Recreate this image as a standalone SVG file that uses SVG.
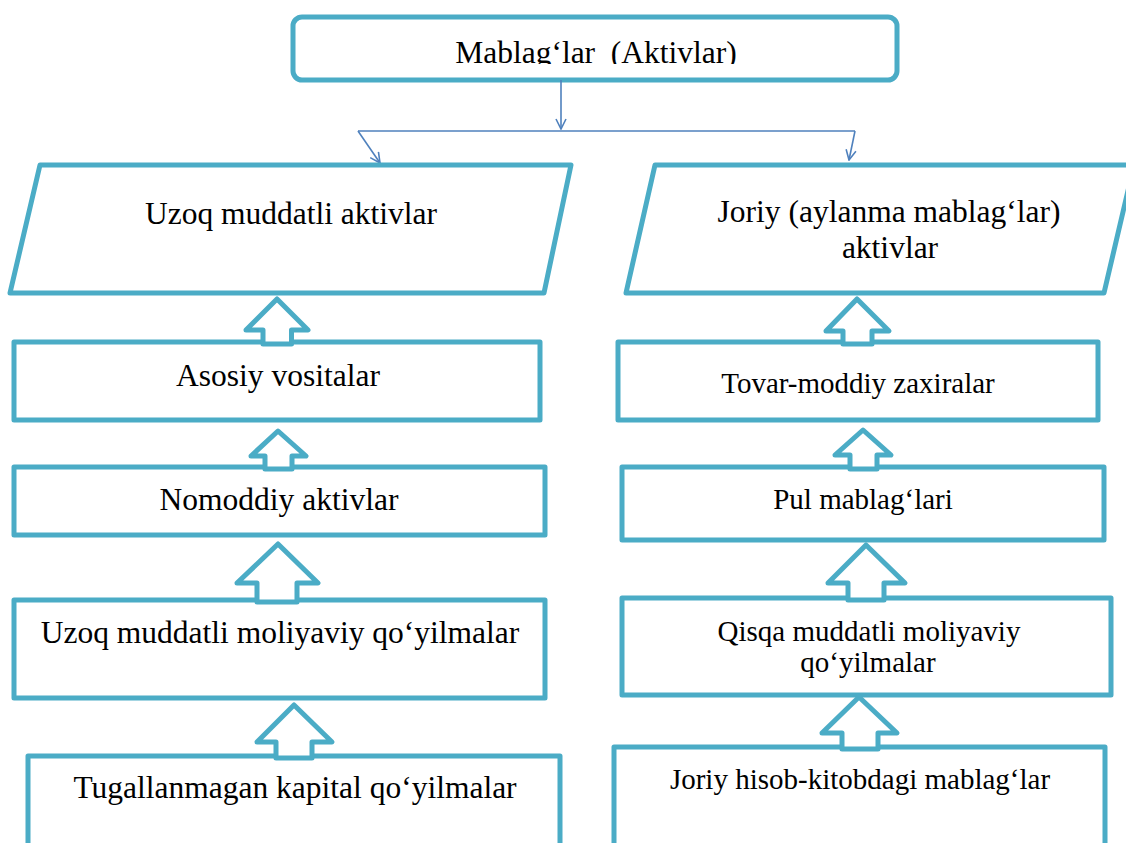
<svg xmlns="http://www.w3.org/2000/svg" width="1126" height="843" viewBox="0 0 1126 843">
<style>
.box{fill:#fff;stroke:#4BACC6;stroke-width:5;stroke-linejoin:round}
.arr{fill:#fff;stroke:#4BACC6;stroke-width:5;stroke-linejoin:round}
.t{font-family:"Liberation Serif","Times New Roman",serif;fill:#000;text-anchor:middle}
.big{font-size:31.5px}
.sm{font-size:29px}
.con{fill:none;stroke:#4F81BD;stroke-width:1.6}
</style>
<defs>
<marker id="ah" viewBox="0 0 12 12" refX="11" refY="6" markerWidth="12" markerHeight="12" markerUnits="userSpaceOnUse" orient="auto">
<path d="M1,1 L11,6 L1,11" fill="none" stroke="#4F81BD" stroke-width="1.6"/>
</marker>
<clipPath id="topclip"><rect x="293" y="17" width="604" height="47"/></clipPath>
</defs>
<rect width="1126" height="843" fill="#fff"/>

<g id="top">
<rect class="box" x="293" y="17" width="604" height="63" rx="9"/>
<text class="t big" x="596" y="63" clip-path="url(#topclip)" xml:space="preserve">Mablag‘lar  (Aktivlar)</text>
</g>

<g id="connectors">
<line class="con" x1="561" y1="80" x2="561" y2="129" marker-end="url(#ah)"/>
<polyline class="con" points="358,131 855,131"/>
<line class="con" x1="358" y1="131" x2="380" y2="163" marker-end="url(#ah)"/>
<line class="con" x1="855" y1="131" x2="849" y2="160" marker-end="url(#ah)"/>
</g>

<g id="long-term">
<polygon class="box" points="40,165 571,165 544,293 10,293"/>
<text class="t big" x="291" y="224">Uzoq muddatli aktivlar</text>
</g>

<g id="current">
<polygon class="box" points="655,165 1134,165 1104,293 626,293"/>
<text class="t big" x="889" y="222">Joriy (aylanma mablag‘lar)</text>
<text class="t big" x="890" y="258">aktivlar</text>
</g>

<g id="asosiy">
<rect class="box" x="14" y="342" width="526" height="78"/>
<text class="t big" x="278" y="386">Asosiy vositalar</text>
</g>

<g id="nomoddiy">
<rect class="box" x="14" y="467" width="531" height="68"/>
<text class="t big" x="279" y="510">Nomoddiy aktivlar</text>
</g>

<g id="uzoq-moliyaviy">
<rect class="box" x="14" y="600" width="531" height="98"/>
<text class="t big" x="280" y="643">Uzoq muddatli moliyaviy qo‘yilmalar</text>
</g>

<g id="tugallanmagan">
<rect class="box" x="28" y="756" width="532" height="100"/>
<text class="t big" x="295" y="798">Tugallanmagan kapital qo‘yilmalar</text>
</g>

<g id="tovar">
<rect class="box" x="618" y="342" width="480" height="78"/>
<text class="t sm" x="858" y="393">Tovar-moddiy zaxiralar</text>
</g>

<g id="pul">
<rect class="box" x="622" y="467" width="482" height="73"/>
<text class="t sm" x="863" y="509">Pul mablag‘lari</text>
</g>

<g id="qisqa">
<rect class="box" x="622" y="598" width="489" height="97"/>
<text class="t sm" x="869" y="641">Qisqa muddatli moliyaviy</text>
<text class="t sm" x="868" y="672">qo‘yilmalar</text>
</g>

<g id="joriy-hisob">
<rect class="box" x="614" y="747" width="491" height="109"/>
<text class="t sm" x="860" y="789">Joriy hisob-kitobdagi mablag‘lar</text>
</g>

<g id="block-arrows">
<polygon class="arr" points="277,299 308,330 291.5,330 291.5,344 263,344 263,330 246,330"/>
<polygon class="arr" points="278,431 306,456 292,456 292,469 265,469 265,456 251,456"/>
<polygon class="arr" points="278,544 318,583 297,583 297,602 257,602 257,583 237,583"/>
<polygon class="arr" points="294,705 332,742 312,742 312,758 276,758 276,742 257,742"/>
<polygon class="arr" points="857,299 889,331 872,331 872,344 843,344 843,331 826,331"/>
<polygon class="arr" points="863,430 891,455 877,455 877,469 850,469 850,455 835,455"/>
<polygon class="arr" points="866,545 905,583 884,583 884,600 848,600 848,583 828,583"/>
<polygon class="arr" points="859,697 897,733 878,733 878,749 842,749 842,733 822,733"/>
</g>
</svg>
